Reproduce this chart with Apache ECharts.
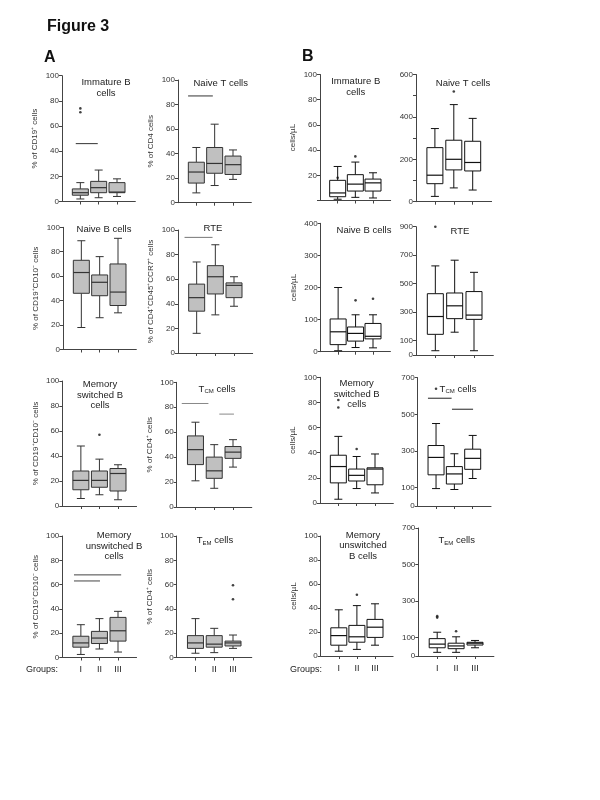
<!DOCTYPE html>
<html><head><meta charset="utf-8">
<script src="https://cdn.jsdelivr.net/npm/echarts@6/dist/echarts.min.js"></script>
<style>html,body{margin:0;padding:0;background:#fff}#c{width:600px;height:800px}</style>
</head><body><div id="c"></div>
<script>
// ---------- DATA ----------
const groups = ['I', 'II', 'III'];
// each box: [min, Q1, median, Q3, max] for groups I, II, III
// Outliers: [groupNumber, value]; significance bars: [fromPos, toPos, value] in group units

// A: percentages
const immatureBPct = [[2, 5, 7, 10, 15], [3, 7, 11, 16, 25], [4, 7, 7.5, 15, 18]];
const immatureBPctOut = [[1, 71], [1, 74]];
const immatureBPctSig = [[0.75, 1.95, 46]];

const naiveTPct = [[8, 16, 25, 33, 45], [14, 24, 32, 45, 64], [19, 23, 31, 38, 43]];
const naiveTPctSig = [[0.55, 1.9, 87]];

const naiveBPct = [[18, 46, 63, 73, 89], [26, 44, 55, 61, 76], [30, 36, 47, 70, 91]];

const rtePct = [[16, 34, 45, 56, 74], [31, 48, 62, 71, 88], [38, 45, 55, 57, 62]];
const rtePctSig = [[0.35, 1.85, 94]];

const memSwBPct = [[6, 13, 20.5, 28, 48], [9, 15, 20.5, 28, 37.5], [5, 12, 26, 30, 33]];
const memSwBPctOut = [[2, 57]];

const tcmPct = [[21, 34, 46, 57, 68], [15, 23, 29, 40, 50], [32, 39, 44, 48.5, 54]];
const tcmPctSig = [[0.27, 1.69, 83], [2.27, 3.05, 74.5]];

const memUnswBPct = [[2.5, 8.5, 12, 17.5, 27], [7, 11.5, 16, 21.5, 32], [4.5, 13.5, 22, 33, 38]];
const memUnswBPctSig = [[0.63, 3.17, 68], [0.63, 2.03, 63]];

const temPct = [[3.5, 7.5, 12, 18, 32], [4, 8.5, 11, 18, 24], [7.5, 9.5, 12, 13.5, 18.5]];
const temPctOut = [[3, 48], [3, 59.5]];

// B: absolute counts (cells/µL)
const immatureBAbs = [[1, 3, 6, 16, 27], [2.5, 7.5, 13, 20.5, 30.5], [2, 7.5, 14, 17, 22]];
const immatureBAbsOut = [[1, 18], [2, 35]];

const naiveTAbs = [[25, 85, 125, 255, 345], [65, 150, 200, 290, 458], [55, 145, 185, 285, 393]];
const naiveTAbsOut = [[2, 520]];

const naiveBAbs = [[3, 22, 62, 102, 200], [13, 33, 57, 77, 115], [12, 40, 48, 88, 115]];
const naiveBAbsOut = [[2, 160], [3, 165]];

const rteAbs = [[30, 145, 270, 430, 625], [160, 255, 345, 435, 665], [30, 250, 280, 445, 580]];
const rteAbsOut = [[1, 900]];

const memSwBAbs = [[3, 16, 29, 38, 53], [11.5, 17.5, 22, 27, 37], [8, 14.5, 27, 28, 39]];
const memSwBAbsOut = [[1, 76], [1, 82], [2, 43]];

const tcmAbs = [[95, 170, 265, 330, 450], [90, 120, 175, 215, 285], [150, 200, 260, 310, 385]];
const tcmAbsOut = [[1, 640]];
const tcmAbsSig = [[0.56, 1.85, 588], [1.87, 3.02, 528]];

const memUnswBAbs = [[4, 9, 17, 23.5, 38.5], [5.5, 11.5, 16, 25.5, 42], [9, 15.5, 24, 30.5, 43.5]];
const memUnswBAbsOut = [[2, 51]];

const temAbs = [[20, 45, 65, 95, 130], [20, 40, 55, 70, 105], [45, 60, 70, 75, 85]];
const temAbsOut = [[1, 210], [1, 218], [2, 135]];

// tick label sets
const immBAbsLabels = [20, 40, 60, 80, 100];
const naiveTAbsLabels = [0, 200, 400, 600];
const rteAbsLabels = [0, 100, 300, 500, 700, 900];
const tAbsLabels = [0, 100, 300, 500, 700];

// ---------- LAYOUT ----------
const FONT = '"Liberation Sans", Arial, sans-serif';
const A = {fill: '#c0c0c0', stroke: '#333'};
const B = {fill: '#ffffff', stroke: '#111'};
const TCM = '{n|T}{s|CM}{n| cells}';
const TEM = '{n|T}{s|EM}{n| cells}';

const panels = [
  {d: immatureBPct, out: immatureBPctOut, sig: immatureBPctSig, sigC: '#333', st: A, ax: 62, top: 75.7, bot: 201.5, last: 117, max: 100, itv: 20, yName: '% of CD19⁺ cells', title: 'Immature B\ncells', tx: 106, ty: 88},
  {d: naiveTPct, sig: naiveTPctSig, sigC: '#333', st: A, ax: 178, top: 80, bot: 202.7, last: 233, max: 100, itv: 20, yName: '% of CD4 cells', title: 'Naive T cells', tx: 220.7, ty: 83.3},
  {d: immatureBAbs, out: immatureBAbsOut, st: B, ax: 320, top: 74.5, bot: 200.5, last: 373, max: 100, itv: 20, labels: immBAbsLabels, yName: 'cells/µL', title: 'Immature B\ncells', tx: 355.7, ty: 87},
  {d: naiveTAbs, out: naiveTAbsOut, st: B, ax: 416, top: 74.5, bot: 201.7, last: 472.7, max: 600, itv: 100, labels: naiveTAbsLabels, title: 'Naive T cells', tx: 463, ty: 83},

  {d: naiveBPct, st: A, ax: 63, top: 227.3, bot: 349.5, last: 118, max: 100, itv: 20, yName: '% of CD19⁺CD10⁻ cells', title: 'Naive B cells', tx: 104, ty: 229},
  {d: rtePct, sig: rtePctSig, sigC: '#777', st: A, ax: 178, top: 230, bot: 353, last: 234, max: 100, itv: 20, yName: '% of CD4⁺CD45⁺CCR7⁺ cells', title: 'RTE', tx: 213, ty: 228},
  {d: naiveBAbs, out: naiveBAbsOut, st: B, ax: 320.7, top: 223.3, bot: 351.7, last: 373, max: 400, itv: 100, yName: 'cells/µL', title: 'Naive B cells', tx: 364, ty: 230},
  {d: rteAbs, out: rteAbsOut, st: B, ax: 416, top: 226.7, bot: 355, last: 474, max: 900, itv: 100, labels: rteAbsLabels, ticks: rteAbsLabels, title: 'RTE', tx: 460, ty: 231.7},

  {d: memSwBPct, out: memSwBPctOut, st: A, ax: 62.3, top: 381, bot: 506, last: 118, max: 100, itv: 20, yName: '% of CD19⁺CD10⁻ cells', title: 'Memory\nswitched B\ncells', tx: 100, ty: 395},
  {d: tcmPct, sig: tcmPctSig, sigC: '#888', st: A, ax: 176.7, top: 382.3, bot: 507, last: 233, max: 100, itv: 20, yName: '% of CD4⁺ cells', title: TCM, tx: 217, ty: 389},
  {d: memSwBAbs, out: memSwBAbsOut, st: B, ax: 320, top: 377.3, bot: 503, last: 375, max: 100, itv: 20, yName: 'cells/µL', title: 'Memory\nswitched B\ncells', tx: 356.7, ty: 394.3},
  {d: tcmAbs, out: tcmAbsOut, sig: tcmAbsSig, sigC: '#222', st: B, ax: 417.7, top: 377.7, bot: 506, last: 472.7, max: 700, itv: 100, labels: tAbsLabels, ticks: tAbsLabels, title: TCM, tx: 458, ty: 389},

  {d: memUnswBPct, sig: memUnswBPctSig, sigC: '#444', st: A, ax: 62.3, top: 536, bot: 657.5, last: 118, max: 100, itv: 20, yName: '% of CD19⁺CD10⁻ cells', title: 'Memory\nunswitched B\ncells', tx: 114, ty: 546, bottom: true},
  {d: temPct, out: temPctOut, st: A, ax: 176.7, top: 536, bot: 657.5, last: 233, max: 100, itv: 20, yName: '% of CD4⁺ cells', title: TEM, tx: 215, ty: 540.7, bottom: true},
  {d: memUnswBAbs, out: memUnswBAbsOut, st: B, ax: 320.7, top: 536, bot: 656, last: 375, max: 100, itv: 20, yName: 'cells/µL', title: 'Memory\nunswitched\nB cells', tx: 363, ty: 545.7, bottom: true},
  {d: temAbs, out: temAbsOut, st: B, ax: 418.3, top: 528, bot: 656, last: 475, max: 700, itv: 100, labels: tAbsLabels, ticks: tAbsLabels, title: TEM, tx: 456.7, ty: 540.7, bottom: true}
];

const grid = [], xAxis = [], yAxis = [], series = [], graphic = [];
const cats = [''].concat(groups, ['']);
const inGroups = (i) => i >= 1 && i <= 3;

// box-and-whisker drawn through the axis scales (api.coord)
function makeBoxRenderer(st) {
  return function (params, api) {
    const x = api.value(0);
    const v = [1, 2, 3, 4, 5].map(k => api.value(k));
    const p = v.map(val => api.coord([x, val]));
    const cx = p[0][0];
    const bw = 16, cw = 8;
    const ls = {stroke: st.stroke, lineWidth: 1};
    return {
      type: 'group',
      children: [
        {type: 'line', shape: {x1: cx, y1: p[4][1], x2: cx, y2: p[3][1]}, style: ls},
        {type: 'line', shape: {x1: cx, y1: p[1][1], x2: cx, y2: p[0][1]}, style: ls},
        {type: 'line', shape: {x1: cx - cw / 2, y1: p[4][1], x2: cx + cw / 2, y2: p[4][1]}, style: ls},
        {type: 'line', shape: {x1: cx - cw / 2, y1: p[0][1], x2: cx + cw / 2, y2: p[0][1]}, style: ls},
        {type: 'rect', shape: {x: cx - bw / 2, y: p[3][1], width: bw, height: p[1][1] - p[3][1]},
          style: {fill: st.fill, stroke: st.stroke, lineWidth: 1}},
        {type: 'line', shape: {x1: cx - bw / 2, y1: p[2][1], x2: cx + bw / 2, y2: p[2][1]}, style: {stroke: st.stroke, lineWidth: 1.2}}
      ]
    };
  };
}

panels.forEach((p, i) => {
  const s = (p.last - p.ax) / 3;
  grid.push({left: p.ax, top: p.top, width: 4 * s, height: p.bot - p.top, containLabel: false});
  xAxis.push({
    gridIndex: i, type: 'category', data: cats, boundaryGap: false,
    axisLine: {lineStyle: {color: '#444', width: 1}},
    axisTick: {length: 3, interval: inGroups, lineStyle: {color: '#444'}},
    axisLabel: {show: !!p.bottom, interval: inGroups, fontSize: 9, color: '#222', margin: 8, fontFamily: FONT},
    splitLine: {show: false}
  });
  xAxis.push({gridIndex: i, type: 'value', min: 0, max: 4, show: false});
  const yTick = {show: true, length: 3, lineStyle: {color: '#444'}};
  if (p.ticks) yTick.customValues = p.ticks;
  const yLab = {fontSize: 8, color: '#333', margin: 3, fontFamily: FONT};
  if (p.labels) yLab.customValues = p.labels;
  yAxis.push({
    gridIndex: i, type: 'value', min: 0, max: p.max, interval: p.itv,
    axisLine: {show: true, lineStyle: {color: '#444', width: 1}},
    axisTick: yTick, axisLabel: yLab, splitLine: {show: false},
    name: p.yName || '', nameLocation: 'middle', nameGap: 23, nameRotate: 90,
    nameTextStyle: {fontSize: 8, color: '#333', fontFamily: FONT}
  });
  series.push({
    type: 'custom', xAxisIndex: 2 * i + 1, yAxisIndex: i, silent: true,
    data: p.d.map((v, k) => [k + 1].concat(v)),
    encode: {x: 0, y: [1, 2, 3, 4, 5]},
    renderItem: makeBoxRenderer(p.st)
  });
  if (p.out) {
    series.push({type: 'scatter', xAxisIndex: 2 * i + 1, yAxisIndex: i, silent: true,
      data: p.out, symbolSize: 2.6, itemStyle: {color: '#111'}});
  }
  (p.sig || []).forEach(sg => {
    series.push({type: 'line', xAxisIndex: 2 * i + 1, yAxisIndex: i, silent: true,
      data: [[sg[0], sg[2]], [sg[1], sg[2]]], symbol: 'none',
      lineStyle: {color: p.sigC || '#333', width: 1}});
  });
  graphic.push({
    type: 'text', x: p.tx, y: p.ty, silent: true,
    style: {
      text: p.title, align: 'center', verticalAlign: 'middle',
      font: '9.5px ' + FONT, fill: '#222', lineHeight: 10.5,
      rich: {n: {fontSize: 9.5, fontFamily: FONT, fill: '#222'},
             s: {fontSize: 6, fontFamily: FONT, fill: '#222', verticalAlign: 'bottom'}}
    }
  });
});

graphic.push({type: 'text', x: 47, y: 27, style: {text: 'Figure 3', font: 'bold 16px ' + FONT, fill: '#111', verticalAlign: 'middle'}});
graphic.push({type: 'text', x: 44, y: 58, style: {text: 'A', font: 'bold 16px ' + FONT, fill: '#111', verticalAlign: 'middle'}});
graphic.push({type: 'text', x: 302, y: 57, style: {text: 'B', font: 'bold 16px ' + FONT, fill: '#111', verticalAlign: 'middle'}});
graphic.push({type: 'text', x: 26, y: 670, style: {text: 'Groups:', font: '9px ' + FONT, fill: '#222', verticalAlign: 'middle'}});
graphic.push({type: 'text', x: 290, y: 670, style: {text: 'Groups:', font: '9px ' + FONT, fill: '#222', verticalAlign: 'middle'}});

const chart = echarts.init(document.getElementById('c'), null, {renderer: 'canvas'});
chart.setOption({
  animation: false, backgroundColor: '#fff',
  textStyle: {fontFamily: FONT},
  grid, xAxis, yAxis, series, graphic
});
</script></body></html>
